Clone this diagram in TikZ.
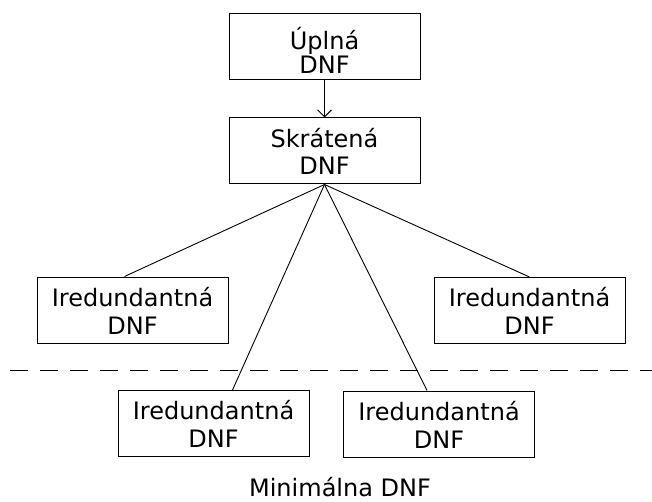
\documentclass[tikz,border=0pt]{standalone}
\usepackage{fontspec}
\setmainfont{DejaVu Sans}
\usetikzlibrary{arrows.meta,calc}

% font of the boxes, with the distance between the two lines as argument
\newcommand{\dnffont}[1]{\fontsize{24}{#1}\selectfont}
% two-line box label: top strut height #3, bottom strut depth #4
\newcommand{\dnflines}[4]{\vrule width 0pt height #3pt\relax #1\\#2\vrule width 0pt depth #4pt\relax}

\tikzset{
  dnfbox/.style={draw, line width=1pt, minimum width=191pt, minimum height=66pt,
    inner sep=0pt, align=center, font=\dnffont{#1}},
  dnfbox/.default=28,
  link/.style={line width=0.9pt},
  divider/.style={line width=1pt, dash pattern=on 18pt off 12pt},
}

\begin{document}
\lineskiplimit=-100pt
\begin{tikzpicture}[x=1pt, y=-1pt]
  \useasboundingbox (0,0) rectangle (652,502);

  % hierarchy of normal forms
  \node[dnfbox=24] (full) at (324.5,47)   {\dnflines{Úplná}{DNF}{30}{0}};
  \node[dnfbox=27] (short) at (324.5,151) {\dnflines{Skrátená}{DNF}{24}{3}};
  \node[dnfbox] (irl) at (132.5,310)      {\dnflines{Iredundantná}{DNF}{25}{5}};
  \node[dnfbox] (irr) at (529.5,310.5)    {\dnflines{Iredundantná}{DNF}{25}{5}};
  \node[dnfbox] (irbl) at (213.5,423.5)   {\dnflines{Iredundantná}{DNF}{25}{5}};
  \node[dnfbox] (irbr) at (439,424)       {\dnflines{Iredundantná}{DNF}{25}{5}};

  % caption under the minimal forms
  \node[font=\dnffont{28}, anchor=base, inner sep=0pt] (minlabel) at (340,496) {Minimálna DNF};

  % connectors
  \draw[link, -{Straight Barb[length=7pt,width=14pt]}] (full) -- (short);
  \coordinate (hub) at (short.south);
  \draw[link] (hub) -- ($(irl.north west)+(88,0)$);
  \draw[link] (hub) -- ($(irr.north west)+(96,0)$);
  \draw[link] (hub) -- ($(irbl.north west)+(115,0)$);
  \draw[link] (hub) -- ($(irbr.north west)+(84,0)$);

  % dashed divider between irredundant and minimal forms
  \coordinate (divL) at (10,370);
  \coordinate (divR) at (652,370);
  \draw[divider] (divL) -- (divR);
\end{tikzpicture}
\end{document}
